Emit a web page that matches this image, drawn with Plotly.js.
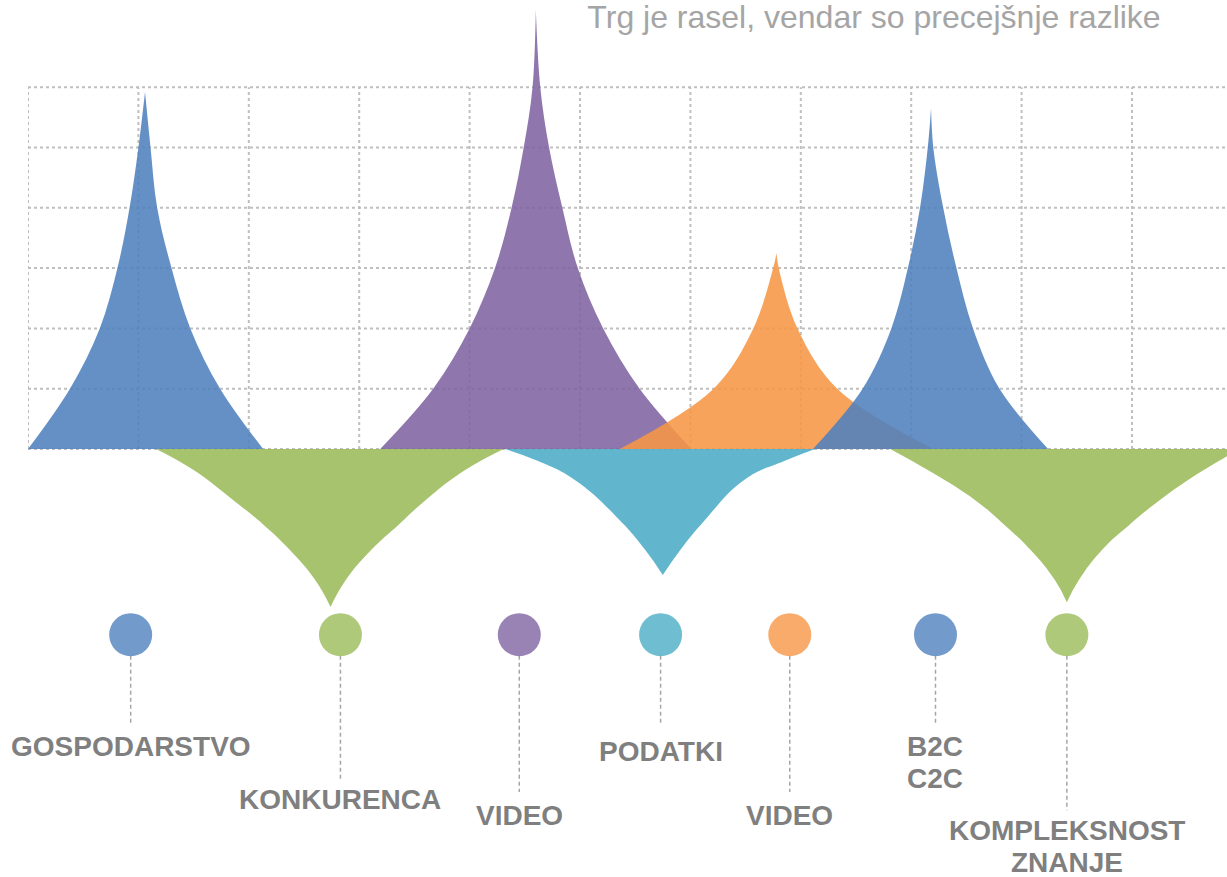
<!DOCTYPE html>
<html>
<head>
<meta charset="utf-8">
<script src="https://cdn.plot.ly/plotly-3.0.1.min.js"></script>
<style>
  html, body { margin: 0; padding: 0; background: #ffffff; }
  #chart { width: 1227px; height: 877px; }
</style>
</head>
<body>
<div id="chart"></div>
<script>
// ---------- data ----------
const titleText = "Trg je rasel, vendar so precejšnje razlike";

const categories = ["GOSPODARSTVO", "KONKURENCA", "VIDEO", "PODATKI", "VIDEO", "B2C<br>C2C", "KOMPLEKSNOST<br>ZNANJE"];
const categoryX = [0.93, 2.83, 4.45, 5.73, 6.90, 8.22, 9.41];

// spike outlines (x, y) per category
const gospodarstvoX = [0, 0.38, 0.65, 0.81, 0.92, 1.00, 1.06, 1.11, 1.17, 1.30, 1.47, 1.74, 2.13];
const gospodarstvoY = [0, 1, 2, 3, 4, 5, 5.92, 5, 4, 3, 2, 1, 0];

const konkurencaX = [1.16, 1.50, 1.86, 2.13, 2.37, 2.60, 2.74, 2.88, 3.11, 3.36, 3.60, 3.96, 4.31];
const konkurencaY = [0, -0.35, -0.85, -1.25, -1.67, -2.17, -2.62, -2.17, -1.67, -1.25, -0.85, -0.35, 0];

const video1X = [3.19, 3.67, 4.00, 4.23, 4.38, 4.49, 4.57, 4.60, 4.64, 4.72, 4.84, 4.98, 5.21, 5.54, 6.01];
const video1Y = [0, 1, 2, 3, 4, 5, 6, 7.28, 6, 5, 4, 3, 2, 1, 0];

const podatkiX = [4.32, 4.62, 4.95, 5.36, 5.59, 5.75, 5.91, 6.13, 6.49, 6.85, 7.13];
const podatkiY = [0, -0.2, -0.51, -1.18, -1.67, -2.09, -1.67, -1.18, -0.51, -0.2, 0];

const video2X = [5.36, 6.21, 6.57, 6.75, 6.78, 6.80, 6.97, 7.33, 8.20];
const video2Y = [0, 1, 2, 3, 3.25, 3, 2, 1, 0];

const b2cX = [7.11, 7.56, 7.82, 7.97, 8.08, 8.15, 8.18, 8.20, 8.29, 8.41, 8.56, 8.80, 9.24];
const b2cY = [0, 1, 2, 3, 4, 5, 5.65, 5, 4, 3, 2, 1, 0];

const kompleksnostX = [7.81, 8.15, 8.58, 8.84, 9.08, 9.30, 9.41, 9.52, 9.73, 9.98, 10.25, 10.65, 10.98];
const kompleksnostY = [0, -0.35, -0.85, -1.25, -1.67, -2.17, -2.54, -2.17, -1.67, -1.25, -0.85, -0.35, 0];

const gridRows = [0, 1, 2, 3, 4, 5, 6];
const gridCols = [0, 1, 2, 3, 4, 5, 6, 7, 8, 9, 10];

// ---------- styles / layout constants ----------
const C = {
  blue: "rgba(79,129,189,0.88)", green: "rgba(155,187,89,0.88)", purple: "rgba(128,100,162,0.88)",
  cyan: "rgba(75,172,198,0.88)", orange: "rgba(247,150,70,0.88)"
};
const DOT = {
  blue: "rgba(79,129,189,0.8)", green: "rgba(155,187,89,0.8)", purple: "rgba(128,100,162,0.8)",
  cyan: "rgba(75,172,198,0.8)", orange: "rgba(247,150,70,0.8)"
};
const dotY = -3.08;          // marker row
const stemTop = -3.43;       // bottom of the circles
const stemBottom = [-4.58, -5.52, -5.69, -4.58, -5.69, -4.58, -5.99];
const labelY = [-4.94, -5.82, -6.07, -5.02, -6.07, -4.93, -6.32]; // first line centre
const lineStep = 32 / 60.3;  // spacing between lines of a label
const dotColors = [DOT.blue, DOT.green, DOT.purple, DOT.cyan, DOT.orange, DOT.blue, DOT.green];

const XMAX = 1199 / 110.4;
const YMIN = -(877 - 449) / 60.3;
const YMAX = 449 / 60.3;

// a spike = its two flanks drawn as splines, the area between them filled
function spike(x, y, color, smooth) {
  let k = 0;
  y.forEach(function (v, i) { if (Math.abs(v) > Math.abs(y[k])) k = i; });
  const left = { x: x.slice(0, k + 1), y: y.slice(0, k + 1) };
  const right = { x: x.slice(k).reverse(), y: y.slice(k).reverse() };
  return [
    { type: "scatter", mode: "lines", x: left.x, y: left.y,
      line: { width: 0, shape: "spline", smoothing: smooth, color: color },
      hoverinfo: "skip", showlegend: false },
    { type: "scatter", mode: "lines", x: right.x, y: right.y,
      fill: "tonexty", fillcolor: color,
      line: { width: 0, shape: "spline", smoothing: smooth, color: color },
      hoverinfo: "skip", showlegend: false }
  ];
}

let traces = [].concat(
  spike(gospodarstvoX, gospodarstvoY, C.blue, 1),
  spike(video1X, video1Y, C.purple, 1),
  spike(video2X, video2Y, C.orange, 1),
  spike(b2cX, b2cY, C.blue, 1),
  spike(konkurencaX, konkurencaY, C.green, 1.3),
  spike(podatkiX, podatkiY, C.cyan, 1.3),
  spike(kompleksnostX, kompleksnostY, C.green, 1.3)
);

// dashed stems
categoryX.forEach(function (cx, i) {
  traces.push({
    type: "scatter", mode: "lines", x: [cx, cx], y: [stemTop, stemBottom[i]],
    line: { color: "#a6a6a6", width: 1.5, dash: "4px,3px" },
    hoverinfo: "skip", showlegend: false
  });
});

// circles
traces.push({
  type: "scatter", mode: "markers", x: categoryX, y: categoryX.map(function () { return dotY; }),
  marker: { size: 43, color: dotColors, line: { width: 0 } },
  hoverinfo: "skip", showlegend: false
});

// grid shapes
const shapes = [];
gridRows.forEach(function (r) {
  shapes.push({
    type: "line", xref: "x", yref: "y", x0: 0, x1: XMAX, y0: r, y1: r, layer: "below",
    line: { color: "#bfbfbf", width: 2, dash: "dot" }
  });
});
gridCols.forEach(function (c) {
  shapes.push({
    type: "line", xref: "x", yref: "y", x0: c, x1: c, y0: 0, y1: 6, layer: "below",
    line: { color: "#bfbfbf", width: 2, dash: "dot" }
  });
});

const annotations = [];
categories.forEach(function (t, i) {
  t.split("<br>").forEach(function (line, j) {
    annotations.push({
      xref: "x", yref: "y", x: categoryX[i], y: labelY[i] - j * lineStep, text: line, showarrow: false,
      xanchor: "center", yanchor: "middle", align: "center",
      font: { family: "Liberation Sans, Arial, sans-serif", size: 28, color: "#7f7f7f", weight: "bold" }
    });
  });
});

const layout = {
  width: 1227, height: 877,
  margin: { l: 28, r: 0, t: 0, b: 0 },
  paper_bgcolor: "#ffffff", plot_bgcolor: "#ffffff",
  title: {
    text: titleText, xref: "container", yref: "container",
    x: 874 / 1227, y: 1 - 17 / 877, xanchor: "center", yanchor: "middle",
    font: { family: "Liberation Sans, Arial, sans-serif", size: 32, color: "#a5a5a5" }
  },
  xaxis: { range: [0, XMAX], showgrid: false, zeroline: false, showticklabels: false, showline: false, fixedrange: true },
  yaxis: { range: [YMIN, YMAX], showgrid: false, zeroline: false, showticklabels: false, showline: false, fixedrange: true },
  shapes: shapes,
  annotations: annotations,
  showlegend: false
};

Plotly.newPlot("chart", traces, layout, { displayModeBar: false, staticPlot: true });
</script>
</body>
</html>
